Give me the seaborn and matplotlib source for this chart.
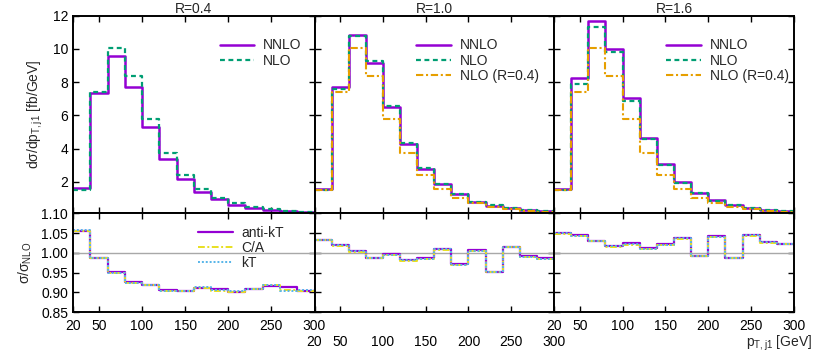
import numpy as np
import pandas as pd
import matplotlib
matplotlib.use("Agg")
import matplotlib.pyplot as plt
import seaborn as sns

# ---------------- data ----------------
edges = [20, 40, 60, 80, 100, 120, 140, 160, 180, 200, 220, 240, 260, 280, 300]
radii = ["R=0.4", "R=1.0", "R=1.6"]

# R = 0.4
nnlo_r04 = [1.60, 7.33, 9.57, 7.72, 5.31, 3.39, 2.16, 1.40, 0.94, 0.62, 0.42, 0.30, 0.23, 0.17]
nlo_r04 = [1.50, 7.40, 10.05, 8.35, 5.77, 3.75, 2.41, 1.54, 1.04, 0.70, 0.47, 0.33, 0.25, 0.19]
# R = 1.0
nnlo_r10 = [1.54, 7.72, 10.84, 9.17, 6.52, 4.25, 2.77, 1.86, 1.24, 0.80, 0.55, 0.40, 0.30, 0.22]
nlo_r10 = [1.49, 7.57, 10.79, 9.28, 6.55, 4.33, 2.81, 1.84, 1.28, 0.79, 0.58, 0.39, 0.30, 0.22]
# R = 1.6
nnlo_r16 = [1.56, 8.23, 11.68, 9.98, 7.06, 4.65, 3.05, 2.00, 1.34, 0.90, 0.60, 0.43, 0.31, 0.23]
nlo_r16 = [1.49, 7.88, 11.33, 9.80, 6.89, 4.59, 2.98, 1.93, 1.35, 0.86, 0.61, 0.41, 0.30, 0.22]

# ratio NNLO / NLO for jet algorithms
akt_r04 = [1.056, 0.987, 0.951, 0.927, 0.920, 0.906, 0.905, 0.912, 0.910, 0.902, 0.909, 0.916, 0.913, 0.904]
ca_r04 = [1.056, 0.988, 0.950, 0.924, 0.918, 0.904, 0.903, 0.911, 0.905, 0.900, 0.908, 0.920, 0.906, 0.905]
kt_r04 = [1.057, 0.988, 0.949, 0.923, 0.919, 0.904, 0.903, 0.914, 0.906, 0.903, 0.908, 0.918, 0.905, 0.906]

akt_r10 = [1.033, 1.020, 1.005, 0.988, 0.996, 0.982, 0.986, 1.010, 0.972, 1.007, 0.953, 1.016, 0.993, 0.986]
ca_r10 = [1.032, 1.018, 1.003, 0.986, 0.994, 0.980, 0.985, 1.008, 0.969, 1.005, 0.951, 1.014, 0.990, 0.985]
kt_r10 = [1.033, 1.019, 1.004, 0.987, 0.995, 0.981, 0.984, 1.009, 0.970, 1.006, 0.952, 1.015, 0.989, 0.984]

akt_r16 = [1.049, 1.044, 1.031, 1.018, 1.024, 1.012, 1.022, 1.038, 0.993, 1.042, 0.988, 1.045, 1.028, 1.023]
ca_r16 = [1.048, 1.042, 1.029, 1.016, 1.021, 1.010, 1.020, 1.036, 0.991, 1.040, 0.986, 1.043, 1.026, 1.022]
kt_r16 = [1.049, 1.043, 1.030, 1.017, 1.022, 1.011, 1.021, 1.037, 0.992, 1.041, 0.987, 1.044, 1.027, 1.022]

top_ticks = [2, 4, 6, 8, 10, 12]
bot_ticks = [0.85, 0.90, 0.95, 1.00, 1.05, 1.10]
x_ticks = [20, 50, 100, 150, 200, 250, 300]

# ---------------- style ----------------
sns.set_style("white")
plt.rcParams["font.family"] = ["Liberation Sans", "DejaVu Sans"]
plt.rcParams["font.size"] = 10
plt.rcParams["mathtext.fontset"] = "custom"
plt.rcParams["mathtext.rm"] = "Liberation Sans"
plt.rcParams["mathtext.it"] = "Liberation Sans"

FS = 10
C_NNLO = "#9400d3"
C_NLO = "#009e73"
C_NLO04 = "#e69f00"
C_CA = "#e8e020"
C_KT = "#56b4e9"

fig = plt.figure(figsize=(8.30, 3.56), dpi=100)
W, H = 830.0, 356.0

panels_x = [(73, 314.5), (314.5, 554), (554, 794)]
y_top = (15.7, 213.3)
y_bot = (213.3, 312.3)


def stepline(ax, vals, color, ls, lw, label):
    xs = edges
    ys = list(vals) + [vals[-1]]
    df = pd.DataFrame({"x": xs, "y": ys})
    sns.lineplot(data=df, x="x", y="y", ax=ax, color=color, linestyle=ls,
                 linewidth=lw, drawstyle="steps-post", label=label,
                 estimator=None, sort=False)


def style_ax(ax):
    for s in ax.spines.values():
        s.set_visible(True)
        s.set_linewidth(1.4)
        s.set_color("black")
    ax.tick_params(direction="in", length=4.5, width=1.0, top=True, right=True,
                   bottom=True, left=True, colors="black", labelsize=FS)
    ax.set_xlim(20, 300)
    ax.set_xticks(x_ticks)
    ax.set_xlabel("")
    ax.set_ylabel("")


DASH = (0, (2.2, 1.6))
DASHDOT = (0, (3.5, 1.3, 1.0, 1.3))
top_sets = [
    [(nnlo_r04, C_NNLO, "-", 1.8, "NNLO"), (nlo_r04, C_NLO, DASH, 1.6, "NLO")],
    [(nnlo_r10, C_NNLO, "-", 1.8, "NNLO"), (nlo_r10, C_NLO, DASH, 1.6, "NLO"),
     (nlo_r04, C_NLO04, DASHDOT, 1.5, "NLO (R=0.4)")],
    [(nnlo_r16, C_NNLO, "-", 1.8, "NNLO"), (nlo_r16, C_NLO, DASH, 1.6, "NLO"),
     (nlo_r04, C_NLO04, DASHDOT, 1.5, "NLO (R=0.4)")],
]
bot_sets = [
    [akt_r04, ca_r04, kt_r04],
    [akt_r10, ca_r10, kt_r10],
    [akt_r16, ca_r16, kt_r16],
]
legend_pos_top = [(0.607, 0.885), (0.424, 0.885), (0.467, 0.885)]

for i in range(3):
    xl, xr = panels_x[i]
    ax_t = fig.add_axes([xl / W, 1 - y_top[1] / H, (xr - xl) / W, (y_top[1] - y_top[0]) / H])
    ax_b = fig.add_axes([xl / W, 1 - y_bot[1] / H, (xr - xl) / W, (y_bot[1] - y_bot[0]) / H])

    for vals, col, ls, lw, lab in top_sets[i]:
        stepline(ax_t, vals, col, ls, lw, lab)
    style_ax(ax_t)
    ax_t.set_ylim(0.1, 12)
    ax_t.set_yticks(top_ticks)
    ax_t.tick_params(labelbottom=False)
    if i > 0:
        ax_t.tick_params(labelleft=False)
    ax_t.set_title(radii[i], fontsize=FS, pad=2)
    ax_t.legend(loc="upper left", bbox_to_anchor=legend_pos_top[i], frameon=False,
                borderpad=0, borderaxespad=0, handlelength=2.5, handletextpad=0.65,
                labelspacing=0.1, fontsize=FS)

    ax_b.axhline(1.0, color="#a8a8a8", lw=1.0, zorder=1)
    akt, ca, kt = bot_sets[i]
    stepline(ax_b, akt, C_NNLO, "-", 1.6, "anti-kT")
    stepline(ax_b, ca, C_CA, DASHDOT, 1.4, "C/A")
    stepline(ax_b, kt, C_KT, (0, (1.0, 1.0)), 1.4, "kT")
    style_ax(ax_b)
    ax_b.set_ylim(0.85, 1.10)
    ax_b.set_yticks(bot_ticks)
    ax_b.set_yticklabels([f"{v:.2f}" for v in bot_ticks])
    if i == 1:
        ax_b.tick_params(axis="x", pad=16)
    else:
        ax_b.tick_params(axis="x", pad=5)
    if i > 0:
        ax_b.tick_params(labelleft=False)
    if i == 0:
        ax_b.legend(loc="upper left", bbox_to_anchor=(0.517, 0.87), frameon=False,
                    borderpad=0, borderaxespad=0, handlelength=2.5, handletextpad=0.65,
                    labelspacing=0.05, fontsize=FS)
        ax_t.set_ylabel(r"d$\sigma$/dp$_{\mathrm{T,j1}}$ [fb/GeV]", fontsize=FS)
        ax_t.yaxis.set_label_coords(-0.118, 0.5)
        ax_b.set_ylabel(r"$\sigma$/$\sigma_{\mathrm{NLO}}$", fontsize=FS)
        ax_b.yaxis.set_label_coords(-0.162, 0.5)
    elif ax_b.get_legend() is not None:
        ax_b.get_legend().remove()

fig.text(812 / W, 1 - 343 / H, r"p$_{\mathrm{T,j1}}$ [GeV]", ha="right", va="center", fontsize=FS)

fig.savefig("out.png", dpi=100, facecolor="white")
